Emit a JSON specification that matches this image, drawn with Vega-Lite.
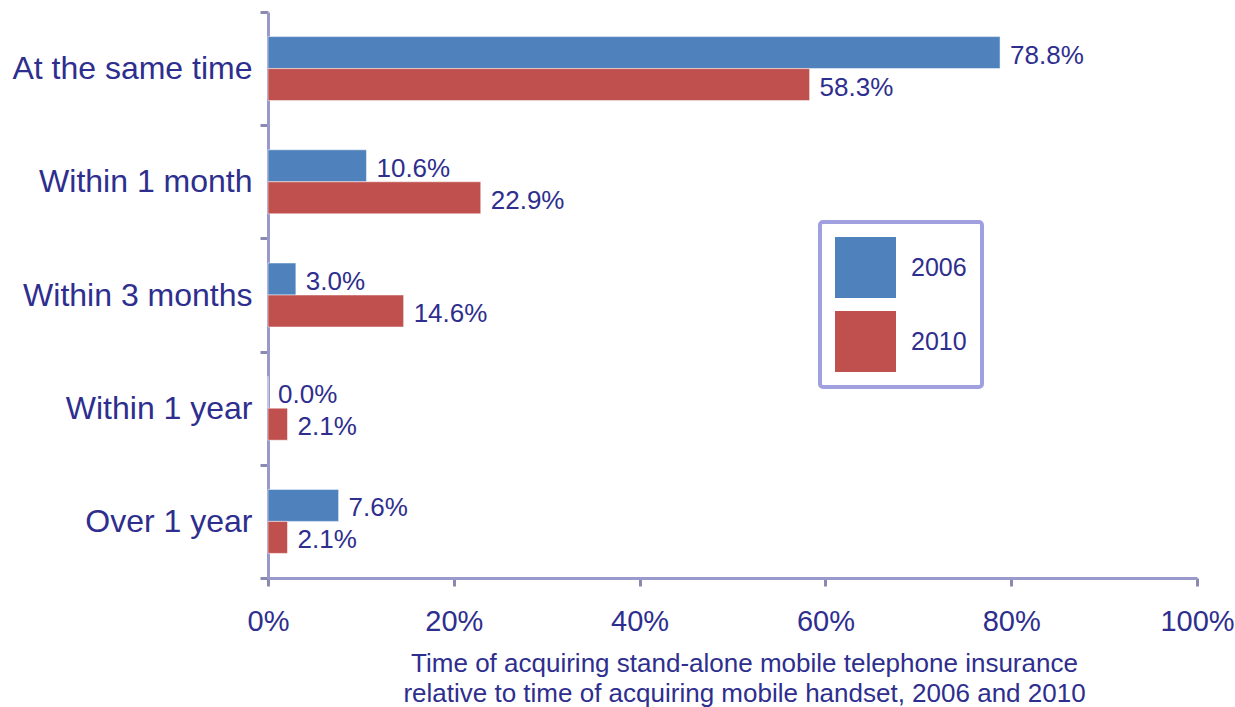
{
  "$schema": "https://vega.github.io/schema/vega-lite/v6.json",
  "width": 929,
  "height": 566,
  "autosize": {"type": "none"},
  "padding": {"left": 268, "top": 12, "right": 38, "bottom": 129},
  "background": "white",
  "config": {
    "view": {"stroke": null},
    "font": "Liberation Sans",
    "text": {"font": "Liberation Sans"},
    "legend": {"strokeWidth": 4}
  },
  "data": {
    "values": [
      {"timing": "At the same time", "year": "2006", "share": 0.788},
      {"timing": "At the same time", "year": "2010", "share": 0.583},
      {"timing": "Within 1 month", "year": "2006", "share": 0.106},
      {"timing": "Within 1 month", "year": "2010", "share": 0.229},
      {"timing": "Within 3 months", "year": "2006", "share": 0.030},
      {"timing": "Within 3 months", "year": "2010", "share": 0.146},
      {"timing": "Within 1 year", "year": "2006", "share": 0.000},
      {"timing": "Within 1 year", "year": "2010", "share": 0.021},
      {"timing": "Over 1 year", "year": "2006", "share": 0.076},
      {"timing": "Over 1 year", "year": "2010", "share": 0.021}
    ]
  },
  "encoding": {
    "y": {
      "field": "timing",
      "type": "nominal",
      "sort": null,
      "scale": {"paddingInner": 0, "paddingOuter": 0},
      "axis": {
        "title": null,
        "tickBand": "extent",
        "labelFontSize": 32,
        "labelColor": "#2e2e8e",
        "labelPadding": 8,
        "tickSize": 8,
        "tickWidth": 3,
        "tickColor": "#8a8ab0",
        "domainColor": "#9999cc",
        "domainWidth": 3,
        "labelLimit": 400
      }
    },
    "x": {
      "field": "share",
      "type": "quantitative",
      "scale": {"domain": [0, 1], "nice": false},
      "axis": {
        "title": ["Time of acquiring stand-alone mobile telephone insurance", "relative to time of acquiring mobile handset, 2006 and 2010"],
        "format": ".0%",
        "values": [0, 0.2, 0.4, 0.6, 0.8, 1],
        "grid": false,
        "labelFlush": false,
        "labelFontSize": 29,
        "labelColor": "#2e2e8e",
        "labelPadding": 21,
        "tickSize": 8,
        "tickWidth": 3,
        "tickColor": "#8a8ab0",
        "domainColor": "#9999cc",
        "domainWidth": 3,
        "titleFontSize": 26,
        "titleFontWeight": "normal",
        "titleColor": "#2e2e8e",
        "titleLineHeight": 30,
        "titlePadding": 14,
        "titleX": 476,
        "titleAnchor": "middle"
      }
    },
    "yOffset": {
      "field": "year",
      "type": "nominal",
      "sort": ["2006", "2010"],
      "scale": {"paddingInner": 0, "paddingOuter": 0.769}
    }
  },
  "layer": [
    {
      "mark": {"type": "bar", "stroke": "white", "strokeWidth": 0.5},
      "encoding": {
        "color": {
          "field": "year",
          "type": "nominal",
          "scale": {"domain": ["2006", "2010"], "range": ["#4f81bd", "#c0504d"]},
          "legend": {
            "title": null,
            "orient": "none",
            "legendX": 552,
            "legendY": 210,
            "symbolType": "square",
            "symbolSize": 3720,
            "symbolStrokeWidth": 0,
            "symbolOpacity": 1,
            "labelFontSize": 25,
            "labelColor": "#2e2e8e",
            "labelOffset": 15,
            "rowPadding": 13,
            "padding": 15,
            "strokeColor": "#a0a0e0",
            "cornerRadius": 3,
            "fillColor": "white"
          }
        }
      }
    },
    {
      "mark": {"type": "text", "align": "left", "baseline": "middle", "dx": 10, "dy": 3, "fontSize": 26, "color": "#2e2e8e"},
      "encoding": {
        "text": {"field": "share", "type": "quantitative", "format": ".1%"}
      }
    }
  ]
}
